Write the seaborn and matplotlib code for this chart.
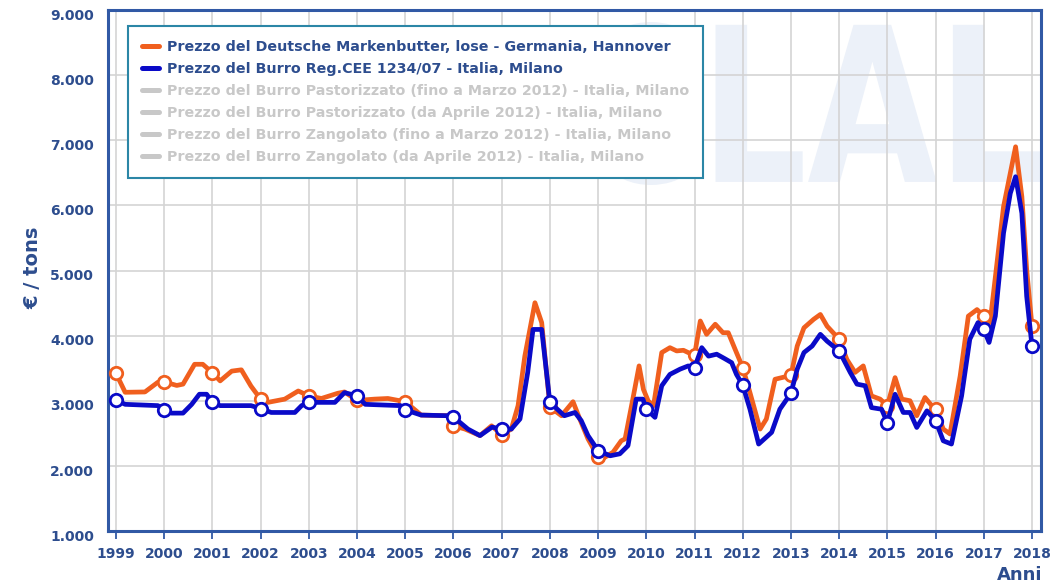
import numpy as np
import pandas as pd
import matplotlib
matplotlib.use("Agg")
import matplotlib.pyplot as plt
import seaborn as sns
from matplotlib.lines import Line2D
from matplotlib.patches import PathPatch
from matplotlib.textpath import TextPath
from matplotlib.font_manager import FontProperties
from matplotlib.transforms import Affine2D, ScaledTranslation
from matplotlib.ticker import FuncFormatter

# Deutsche Markenbutter, lose - Hannover (EUR/t)
de_t = [1999.00, 1999.19, 1999.60, 1999.87, 2000.00, 2000.26, 2000.39, 2000.63, 2000.80,
        2001.00, 2001.16, 2001.40, 2001.60, 2001.80, 2002.00, 2002.15, 2002.50, 2002.78,
        2003.00, 2003.26, 2003.60, 2003.74, 2004.00, 2004.36, 2004.64, 2005.00, 2005.33,
        2005.89, 2006.00, 2006.24, 2006.55, 2006.79, 2007.00, 2007.20, 2007.34, 2007.48,
        2007.69, 2007.83, 2007.93, 2008.00, 2008.24, 2008.48, 2008.62, 2008.79, 2009.00,
        2009.07, 2009.31, 2009.48, 2009.56, 2009.72, 2009.85, 2009.94, 2010.04, 2010.15,
        2010.32, 2010.49, 2010.63, 2010.77, 2010.94, 2011.00, 2011.12, 2011.25, 2011.43,
        2011.59, 2011.70, 2011.87, 2012.00, 2012.15, 2012.36, 2012.49, 2012.67, 2012.81,
        2013.00, 2013.13, 2013.27, 2013.47, 2013.61, 2013.75, 2014.00, 2014.16, 2014.33,
        2014.50, 2014.67, 2014.85, 2015.00, 2015.16, 2015.30, 2015.47, 2015.61, 2015.78,
        2015.92, 2016.00, 2016.16, 2016.30, 2016.51, 2016.68, 2016.86, 2017.00, 2017.13,
        2017.41, 2017.55, 2017.66, 2017.79, 2017.89, 2018.00]
de_price = [3420, 3130, 3135, 3285, 3290, 3235, 3255, 3560, 3560,
            3430, 3305, 3455, 3475, 3225, 3025, 2975, 3025, 3150,
            3075, 3035, 3115, 3135, 3005, 3025, 3035, 2985, 2780,
            2770, 2615, 2565, 2465, 2615, 2480, 2565, 2925, 3685,
            4505, 4200, 3435, 2905, 2770, 2985, 2720, 2415, 2135,
            2100, 2210, 2385, 2415, 3025, 3535, 3175, 2995, 2925,
            3740, 3815, 3765, 3775, 3715, 3695, 4225, 4020, 4175,
            4045, 4045, 3740, 3510, 3125, 2565, 2720, 3330, 3355,
            3390, 3840, 4120, 4250, 4325, 4145, 3945, 3635, 3435,
            3535, 3075, 3025, 2925, 3355, 3025, 3000, 2770, 3050,
            2925, 2870, 2565, 2490, 3380, 4300, 4400, 4300, 4200,
            5980, 6495, 6900, 6135, 5015, 4145]

# Burro Reg.CEE 1234/07 - Milano (EUR/t)
it_t = [1999.00, 1999.19, 1999.87, 2000.00, 2000.15, 2000.39, 2000.57, 2000.73, 2000.88,
        2001.00, 2001.16, 2001.80, 2002.00, 2002.22, 2002.71, 2002.85, 2003.00, 2003.54,
        2003.74, 2004.00, 2004.17, 2004.90, 2005.00, 2005.33, 2005.89, 2006.00, 2006.30,
        2006.55, 2006.80, 2007.00, 2007.20, 2007.38, 2007.54, 2007.65, 2007.83, 2007.93,
        2008.00, 2008.30, 2008.52, 2008.65, 2008.79, 2009.00, 2009.25, 2009.45, 2009.62,
        2009.79, 2009.93, 2010.00, 2010.18, 2010.32, 2010.49, 2010.70, 2010.87, 2011.00,
        2011.15, 2011.29, 2011.46, 2011.63, 2011.77, 2011.87, 2012.00, 2012.15, 2012.33,
        2012.60, 2012.77, 2013.00, 2013.13, 2013.27, 2013.44, 2013.61, 2013.75, 2014.00,
        2014.23, 2014.37, 2014.54, 2014.67, 2014.88, 2015.00, 2015.16, 2015.33, 2015.47,
        2015.61, 2015.82, 2016.00, 2016.16, 2016.33, 2016.54, 2016.71, 2016.88, 2017.00,
        2017.11, 2017.24, 2017.41, 2017.55, 2017.66, 2017.79, 2017.89, 2018.00]
it_price = [3010, 2945, 2925, 2860, 2810, 2810, 2945, 3100, 3100,
            2975, 2925, 2925, 2880, 2820, 2820, 2925, 2975, 2975,
            3125, 3075, 2945, 2925, 2860, 2780, 2770, 2750, 2565,
            2465, 2595, 2565, 2565, 2720, 3435, 4095, 4095, 3435,
            2975, 2770, 2820, 2695, 2465, 2235, 2155, 2185, 2310,
            3025, 3025, 2870, 2745, 3230, 3405, 3485, 3535, 3510,
            3815, 3685, 3715, 3645, 3585, 3405, 3240, 2870, 2335,
            2515, 2870, 3115, 3485, 3740, 3840, 4020, 3915, 3765,
            3435, 3255, 3230, 2895, 2870, 2665, 3100, 2820, 2820,
            2590, 2845, 2695, 2385, 2335, 3075, 3945, 4200, 4095,
            3895, 4300, 5575, 6185, 6440, 5880, 4605, 3840]

years = list(range(1999, 2019))
y_ticks = [1000, 2000, 3000, 4000, 5000, 6000, 7000, 8000, 9000]
legend_labels = [
    "Prezzo del Deutsche Markenbutter, lose - Germania, Hannover",
    "Prezzo del Burro Reg.CEE 1234/07 - Italia, Milano",
    "Prezzo del Burro Pastorizzato (fino a Marzo 2012) - Italia, Milano",
    "Prezzo del Burro Pastorizzato (da Aprile 2012) - Italia, Milano",
    "Prezzo del Burro Zangolato (fino a Marzo 2012) - Italia, Milano",
    "Prezzo del Burro Zangolato (da Aprile 2012) - Italia, Milano",
]

ORANGE = "#f05f1e"
BLUE = "#0a0ac8"
GREY = "#c8c8c8"
NAVY = "#2d4d8e"
FRAME = "#3159a5"

de = pd.DataFrame({"t": de_t, "price": de_price})
it = pd.DataFrame({"t": it_t, "price": it_price})

sns.set_style("white")
plt.rcParams["font.family"] = ["DejaVu Sans"]

fig = plt.figure(figsize=(10.55, 5.84), dpi=100)
ax = fig.add_axes([108 / 1055, 1 - 531 / 584, (1041 - 108) / 1055, (531 - 10) / 584])

# faint CLAL watermark
tp = TextPath((0, 0), "CLAL", size=1, prop=FontProperties(family="DejaVu Sans", weight="bold"))
bb = tp.get_extents()
wm_tr = (Affine2D().translate(-bb.x0, -bb.y0)
         .scale((1040 - 585) / 1055 / bb.width, (185 - 22) / 584 / bb.height)
         .translate(585 / 1055, 1 - 185 / 584)) + fig.transFigure
ax.add_patch(PathPatch(tp, transform=wm_tr, facecolor="#ecf1f9", edgecolor="none", zorder=0.2))

sns.lineplot(data=de, x="t", y="price", color=ORANGE, lw=3.4, ax=ax,
             estimator=None, zorder=3, solid_joinstyle="round", solid_capstyle="round")
sns.scatterplot(data=de[de.t % 1 == 0], x="t", y="price", ax=ax, s=80,
                facecolor="white", edgecolor=ORANGE, linewidth=2, zorder=4)
sns.lineplot(data=it, x="t", y="price", color=BLUE, lw=3.4, ax=ax,
             estimator=None, zorder=5, solid_joinstyle="round", solid_capstyle="round")
sns.scatterplot(data=it[it.t % 1 == 0], x="t", y="price", ax=ax, s=80,
                facecolor="white", edgecolor=BLUE, linewidth=2, zorder=6)

ax.set_xlim(1998.834, 2018.187)
ax.set_ylim(1000, 9000)
ax.set_xticks(years)
ax.set_xticklabels([str(y) for y in years])
ax.set_yticks(y_ticks)
ax.yaxis.set_major_formatter(FuncFormatter(lambda v, p: f"{v:,.0f}".replace(",", ".")))
ax.grid(True, color="#d4d4d4", lw=1.2)
ax.set_axisbelow(True)
ax.set_xlabel("")
ax.set_ylabel("")

for sp in ax.spines.values():
    sp.set_color(FRAME)
    sp.set_linewidth(2.2)
ax.tick_params(axis="x", length=6, width=1.3, color=FRAME, pad=5.5, direction="out",
               bottom=True, labelsize=10, labelcolor=NAVY)
ax.tick_params(axis="y", length=0, pad=10, labelsize=10, labelcolor=NAVY)
shift = ScaledTranslation(0, -3 / 72, fig.dpi_scale_trans)
for lab in ax.get_yticklabels():
    lab.set_fontweight("bold")
    lab.set_transform(lab.get_transform() + shift)
for lab in ax.get_xticklabels():
    lab.set_fontweight("bold")

fig.text(33 / 1055, 1 - 268 / 584, "€ / tons", rotation=90, ha="center", va="center",
         fontsize=14, fontweight="bold", color=NAVY)
fig.text(1042 / 1055, 1 - 575 / 584, "Anni", ha="right", va="center",
         fontsize=13, fontweight="bold", color=NAVY)

handle_colors = [ORANGE, BLUE, GREY, GREY, GREY, GREY]
handles = [Line2D([], [], color=c, lw=3.6) for c in handle_colors]
leg = ax.legend(handles, legend_labels, loc="upper left", bbox_to_anchor=(0.0214, 0.969),
                frameon=True, fancybox=False, framealpha=1, edgecolor="#2b86a6",
                prop={"weight": "bold", "size": 10.3}, handlelength=1.2, handletextpad=0.5,
                labelspacing=0.55, borderpad=1.0, borderaxespad=0)
leg.get_frame().set_linewidth(1.5)
leg.set_zorder(10)
for txt, c in zip(leg.get_texts(), [NAVY, NAVY, GREY, GREY, GREY, GREY]):
    txt.set_color(c)

fig.savefig("out.png", dpi=100)
